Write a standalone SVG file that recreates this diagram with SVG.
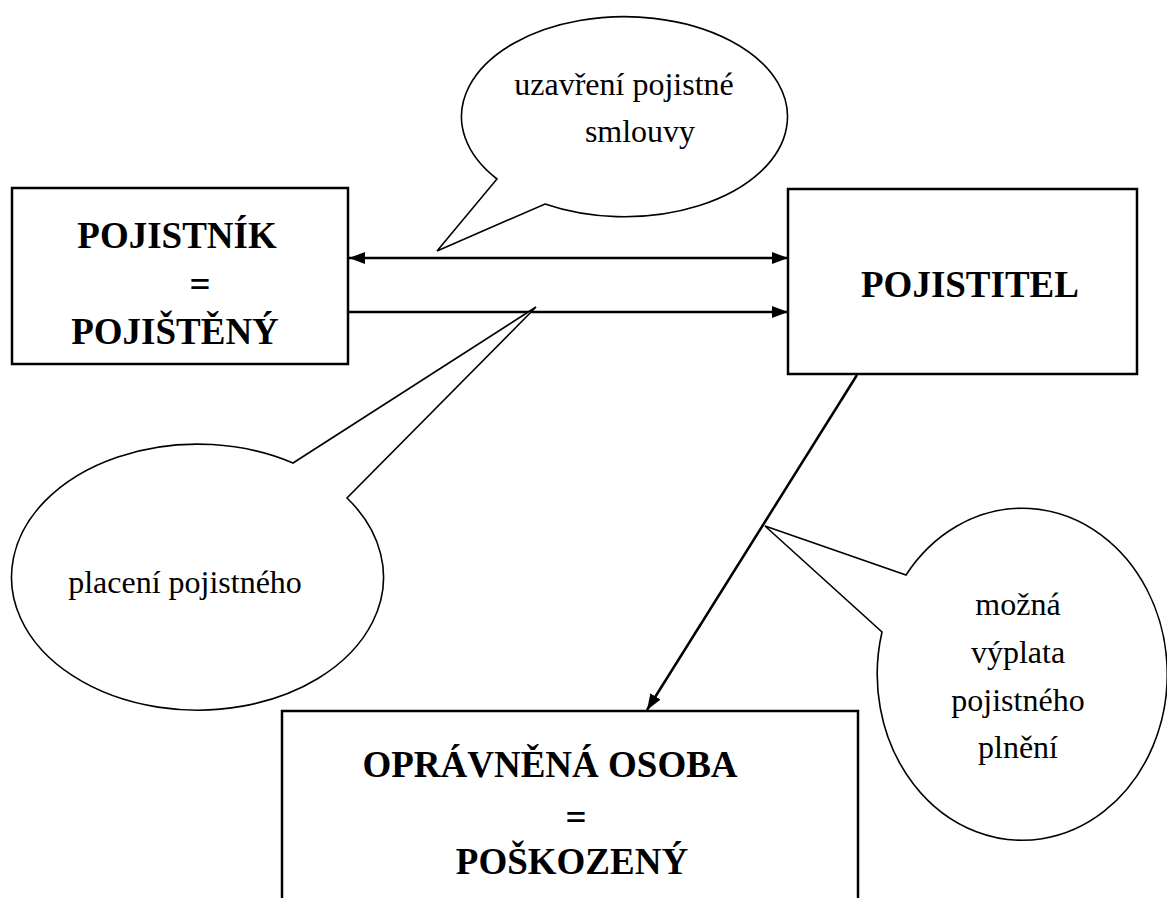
<svg xmlns="http://www.w3.org/2000/svg" width="1167" height="898" viewBox="0 0 1167 898">
<style>
.box{fill:#fff;stroke:#000;stroke-width:2.5}
.call{fill:#fff;stroke:#000;stroke-width:1.6;stroke-linejoin:miter}
.con{stroke:#000;stroke-width:2.5;fill:none}
text{font-family:'Liberation Serif','Times New Roman','DejaVu Serif',serif;fill:#000;text-anchor:middle}
.b{font-weight:bold;font-size:37px}
.r{font-size:32px}
</style>
<defs>
<marker id="ah" viewBox="0 0 16 12" refX="16" refY="6" markerWidth="16" markerHeight="12" markerUnits="userSpaceOnUse" orient="auto-start-reverse">
<path d="M0,0 L16,6 L0,12 Z" fill="#000"/>
</marker>
</defs>
<rect width="1167" height="898" fill="#fff"/>
<g id="connectors">
<line class="con" x1="349" y1="258" x2="788" y2="258" marker-start="url(#ah)" marker-end="url(#ah)"/>
<line class="con" x1="348" y1="312" x2="788" y2="312" marker-end="url(#ah)"/>
<line class="con" x1="857" y1="375" x2="647" y2="710" marker-end="url(#ah)"/>
</g>
<g id="callout-uzavreni">
<path class="call" d="M 545 204 A 163 100 0 1 0 497 179 L 437 251 Z"/>
<text class="r" font-family="'Liberation Serif', 'DejaVu Serif', serif" x="624" y="95">uzavření pojistné</text>
<text class="r" font-family="'Liberation Serif', 'DejaVu Serif', serif" x="640" y="142">smlouvy</text>
</g>
<g id="callout-placeni">
<path class="call" d="M 347 498 A 186 133 0 1 1 293 463 L 536 307 Z"/>
<text class="r" font-family="'Liberation Serif', 'DejaVu Serif', serif" x="185" y="593">placení pojistného</text>
</g>
<g id="callout-vyplata">
<path class="call" d="M 882 632 A 145 166 0 1 0 906 575 L 765 526 Z"/>
<text class="r" font-family="'Liberation Serif', 'DejaVu Serif', serif" x="1018" y="615">možná</text>
<text class="r" font-family="'Liberation Serif', 'DejaVu Serif', serif" x="1018" y="663">výplata</text>
<text class="r" font-family="'Liberation Serif', 'DejaVu Serif', serif" x="1018" y="711">pojistného</text>
<text class="r" font-family="'Liberation Serif', 'DejaVu Serif', serif" x="1018" y="758">plnění</text>
</g>
<g id="pojistnik">
<rect class="box" x="12" y="188" width="336" height="176"/>
<text class="b" font-family="'Liberation Serif', 'DejaVu Serif', serif" x="177" y="248">POJISTNÍK</text>
<text class="b" font-family="'Liberation Serif', 'DejaVu Serif', serif" x="200" y="297">=</text>
<text class="b" font-family="'Liberation Serif', 'DejaVu Serif', serif" x="175" y="344">POJIŠTĚNÝ</text>
</g>
<g id="pojistitel">
<rect class="box" x="788" y="189" width="349" height="185"/>
<text class="b" font-family="'Liberation Serif', 'DejaVu Serif', serif" x="970" y="297">POJISTITEL</text>
</g>
<g id="opravnena-osoba">
<rect class="box" x="282" y="711" width="576" height="200"/>
<text class="b" font-family="'Liberation Serif', 'DejaVu Serif', serif" x="550" y="777">OPRÁVNĚNÁ OSOBA</text>
<text class="b" font-family="'Liberation Serif', 'DejaVu Serif', serif" x="576" y="830">=</text>
<text class="b" font-family="'Liberation Serif', 'DejaVu Serif', serif" x="572" y="874">POŠKOZENÝ</text>
</g>
</svg>
